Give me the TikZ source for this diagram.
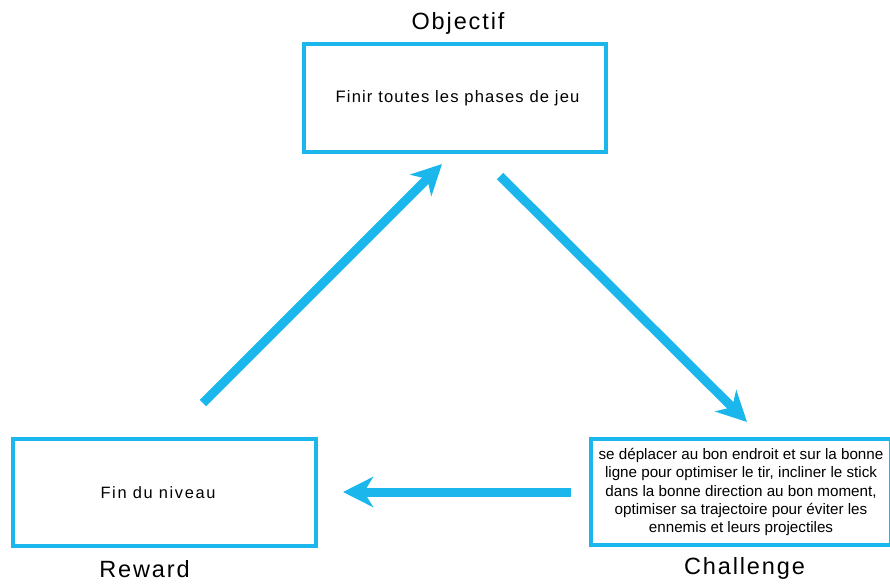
\documentclass[tikz,border=0pt]{standalone}
\usepackage{fontspec}
\setmainfont{Liberation Sans}
\usetikzlibrary{arrows.meta}
\definecolor{cyanline}{RGB}{27,183,236}
\begin{document}
\begin{tikzpicture}[x=1pt,y=-1pt,
  box/.style={draw=cyanline, line width=4pt, inner sep=0pt, align=center},
  title/.style={anchor=base, inner sep=0pt, font=\fontsize{23.5}{28}\selectfont\addfontfeatures{LetterSpace=8}},
  flow/.style={draw=cyanline, line width=9pt, -{Stealth[length=30pt,width=30pt,inset=9pt]}}]
\useasboundingbox (0,0) rectangle (890,583);
\node[box, minimum width=302pt, minimum height=108pt,
  font=\fontsize{16.6}{19}\selectfont\addfontfeatures{LetterSpace=7}] (obj) at (455,98) {\hspace*{5pt}Finir toutes les phases de jeu};
\node[box, minimum width=303pt, minimum height=107pt,
  font=\fontsize{16.4}{19}\selectfont\addfontfeatures{LetterSpace=10}] (rew) at (164.5,492.5) {Fin du niveau\hspace*{13pt}};
\node[box, minimum width=300pt, minimum height=106pt,
  font=\fontsize{15.2}{18.4}\selectfont] (cha) at (741,492) {se déplacer au bon endroit et sur la bonne\\ligne pour optimiser le tir, incliner le stick\\dans la bonne direction au bon moment,\\optimiser sa trajectoire pour éviter les\\ennemis et leurs projectiles};
\node[title] (tobj) at (458,30) {Objectif};
\node[title] (trew) at (144.5,577) {Reward};
\node[title] (tcha) at (744.5,574) {Challenge};
\coordinate (a1s) at (203,403);
\coordinate (a1e) at (442,164);
\coordinate (a2s) at (500,176);
\coordinate (a2e) at (747,422);
\coordinate (a3s) at (571,492);
\coordinate (a3e) at (343,492);
\draw[flow] (a1s) -- (a1e);
\draw[flow] (a2s) -- (a2e);
\draw[flow] (a3s) -- (a3e);
\end{tikzpicture}
\end{document}
